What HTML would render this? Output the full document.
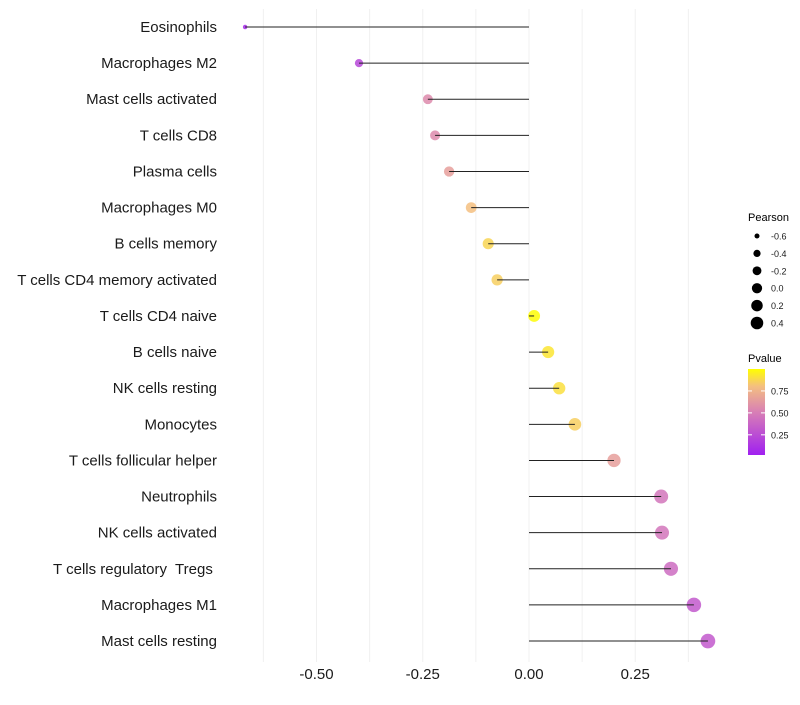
<!DOCTYPE html>
<html><head><meta charset="utf-8"><style>
body{margin:0;background:#fff;font-family:"Liberation Sans",sans-serif;}
svg text{font-family:"Liberation Sans",sans-serif;white-space:pre;}
</style></head><body>
<svg id="chart" width="800" height="700" xmlns="http://www.w3.org/2000/svg">
<defs><linearGradient id="pg" x1="0" y1="1" x2="0" y2="0">
<stop offset="0" stop-color="#a020f0"/><stop offset="0.5" stop-color="#d87fb5"/><stop offset="0.8" stop-color="#f4bf80"/><stop offset="1" stop-color="#ffff00"/>
</linearGradient></defs>
<g id="grid"></g>
<g id="marks"></g>
<g id="ylabels"></g>
<g id="xlabels"></g>
<g id="sizeLeg">
<text x="748" y="221" font-size="11">Pearson</text>
</g>
<g id="colLeg">
<text x="748" y="362" font-size="11">Pvalue</text>
<rect x="748" y="369" width="17" height="86" fill="url(#pg)"/>
</g>
</svg>
<script>
const categories=["Eosinophils","Macrophages M2","Mast cells activated","T cells CD8","Plasma cells","Macrophages M0","B cells memory","T cells CD4 memory activated","T cells CD4 naive","B cells naive","NK cells resting","Monocytes","T cells follicular helper","Neutrophils","NK cells activated","T cells regulatory  Tregs ","Macrophages M1","Mast cells resting"];
const pearson=[-0.668,-0.40,-0.238,-0.221,-0.188,-0.136,-0.096,-0.075,0.012,0.045,0.071,0.108,0.20,0.311,0.313,0.334,0.388,0.421];
const pvalue=[0.05,0.2,0.55,0.55,0.65,0.8,0.87,0.85,0.99,0.92,0.9,0.85,0.65,0.45,0.45,0.4,0.3,0.3];
const xTicks=[-0.5,-0.25,0,0.25];
const xTickLabels=["-0.50","-0.25","0.00","0.25"];
const sizeLegend=[-0.6,-0.4,-0.2,0.0,0.2,0.4];
const sizeLegendLabels=["-0.6","-0.4","-0.2","0.0","0.2","0.4"];
const colTicks=[0.25,0.5,0.75];
const colTickLabels=["0.25","0.50","0.75"];
const NS="http://www.w3.org/2000/svg";
const X=v=>529+v*425;
const Y=i=>27+i*36.12;
const R=v=>Math.sqrt(Math.max(1,35+45*v));
const RL=v=>Math.sqrt(Math.max(1,26.3+33.4*v));
const CY=p=>455-(p-0.02)/(0.98)*86;
const stops=[[0,[160,32,240]],[0.5,[216,127,181]],[0.8,[244,191,128]],[1,[255,255,0]]];
function col(p){let t=Math.max(0,Math.min(1,p));let s=0;while(s<stops.length-2&&t>stops[s+1][0])s++;const a=stops[s],b=stops[s+1];const f=(t-a[0])/(b[0]-a[0]);const c=a[1].map((v,k)=>Math.round(v+(b[1][k]-v)*f));return `rgb(${c})`;}
function mk(tag,at,parent){const e=document.createElementNS(NS,tag);for(const k in at)e.setAttribute(k,at[k]);parent.appendChild(e);return e;}
const grid=document.getElementById('grid');
for(let v=-0.625;v<=0.4;v+=0.125){const l=mk('line',{x1:X(v),x2:X(v),y1:9,y2:662,stroke:'#f0f0f0','stroke-width':1},grid);

}
const marks=document.getElementById('marks'),yl=document.getElementById('ylabels'),xl=document.getElementById('xlabels');
categories.forEach((c,i)=>{
const pt=mk('circle',{cx:X(pearson[i]),cy:Y(i),r:R(pearson[i]),fill:col(pvalue[i]),'fill-opacity':0.85},marks);


const sg=mk('line',{x1:X(0),x2:X(pearson[i]),y1:Y(i),y2:Y(i),stroke:'#222','stroke-width':1},marks);


const t=mk('text',{x:217,y:Y(i)+5,'text-anchor':'end','font-size':15,fill:'#1a1a1a'},yl);t.textContent=c;


});
xTicks.forEach((v,i)=>{const t=mk('text',{x:X(v),y:679,'text-anchor':'middle','font-size':15,fill:'#1a1a1a'},xl);t.textContent=xTickLabels[i];

});
const sl=document.getElementById('sizeLeg');
sizeLegend.forEach((v,i)=>{const y=236+i*17.4;
const c=mk('circle',{cx:757,cy:y,r:RL(v),fill:'#000'},sl);


const t=mk('text',{x:771,y:y+3.5,'font-size':9,fill:'#1a1a1a'},sl);t.textContent=sizeLegendLabels[i];

});
const cl=document.getElementById('colLeg');
colTicks.forEach((v,i)=>{const y=CY(v);
const l=mk('line',{x1:748,x2:752,y1:y,y2:y,stroke:'#fff','stroke-width':1},cl);


const l2=mk('line',{x1:761,x2:765,y1:y,y2:y,stroke:'#fff','stroke-width':1},cl);


const t=mk('text',{x:771,y:y+3.5,'font-size':9,fill:'#1a1a1a'},cl);t.textContent=colTickLabels[i];

});
</script>
</body></html>
